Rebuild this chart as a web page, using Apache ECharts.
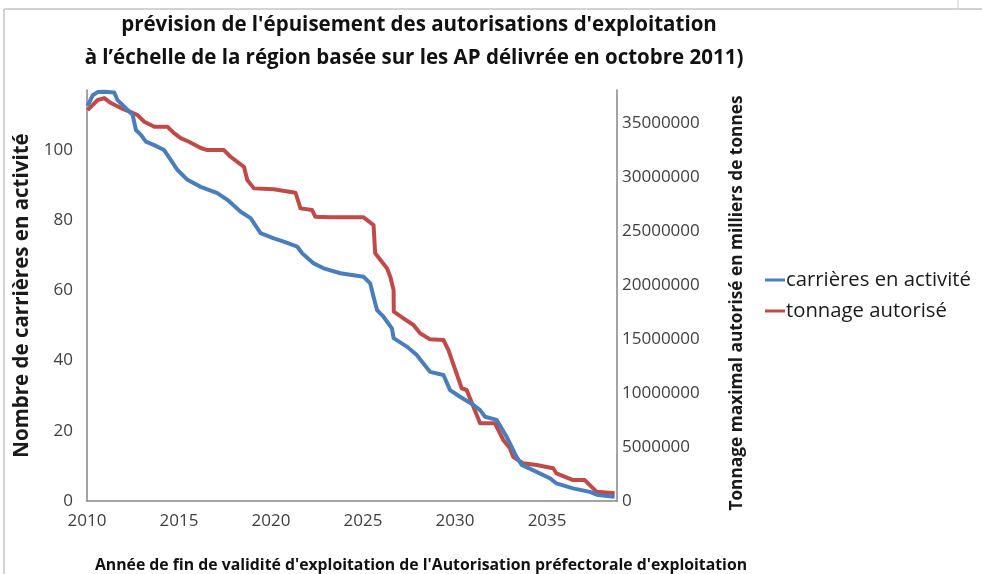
<!DOCTYPE html>
<html>
<head>
<meta charset="utf-8">
<script src="https://cdn.jsdelivr.net/npm/echarts@6/dist/echarts.min.js"></script>
<style>
html,body{margin:0;padding:0;background:#fff;}
#chart{width:982px;height:574px;}
</style>
</head>
<body>
<div id="chart"></div>
<script>
// ---- data ----
var titleLines = [
  "prévision de l'épuisement des autorisations d'exploitation",
  "à l’échelle de la région basée sur les AP délivrée en octobre 2011)"
];
var xAxisTitle = "Année de fin de validité d'exploitation de l'Autorisation préfectorale d'exploitation";
var leftAxisTitle = "Nombre de carrières en activité";
var rightAxisTitle = "Tonnage maximal autorisé en milliers de tonnes";
var seriesNames = ["carrières en activité", "tonnage autorisé"];

var carrieresYears = [2010.03, 2010.31, 2010.58, 2010.94, 2011.48, 2011.66, 2012.21, 2012.48, 2012.66, 2012.93,
  2013.20, 2013.65, 2014.19, 2014.55, 2014.92, 2015.46, 2016.18, 2017.08, 2017.63, 2018.35,
  2018.89, 2019.43, 2020.15, 2020.69, 2021.42, 2021.69, 2022.32, 2022.86, 2023.77, 2025.03,
  2025.39, 2025.57, 2025.76, 2026.11, 2026.57, 2026.66, 2027.38, 2027.92, 2028.28, 2028.64,
  2029.37, 2029.73, 2030.27, 2030.99, 2031.36, 2031.63, 2032.26, 2032.53, 2032.80, 2033.07,
  2033.34, 2033.62, 2034.43, 2035.15, 2035.51, 2036.41, 2037.32, 2037.77, 2038.67];
var carrieresValues = [112.6, 115.6, 116.5, 116.6, 116.4, 114.2, 111.4, 110.0, 105.7, 104.3,
  102.4, 101.4, 100.0, 97.2, 94.3, 91.5, 89.5, 87.7, 85.8, 82.4,
  80.6, 76.3, 74.8, 73.9, 72.5, 70.6, 67.7, 66.3, 64.9, 63.9,
  62.0, 58.2, 54.4, 52.5, 49.2, 46.4, 44.0, 41.6, 39.2, 36.8,
  35.9, 31.6, 29.7, 27.4, 25.9, 24.0, 23.1, 20.7, 18.3, 15.5,
  12.6, 10.3, 8.3, 6.5, 5.0, 3.6, 2.6, 1.7, 1.2];

var tonnageYears = [2010.03, 2010.58, 2010.94, 2011.30, 2011.84, 2012.38, 2012.75, 2013.11, 2013.66, 2014.37,
  2014.73, 2015.09, 2015.54, 2016.18, 2016.54, 2017.44, 2017.80, 2018.53, 2018.71, 2019.07,
  2020.15, 2021.33, 2021.60, 2022.23, 2022.41, 2023.22, 2025.03, 2025.57, 2025.66, 2026.30,
  2026.48, 2026.66, 2026.67, 2027.20, 2027.74, 2028.10, 2028.64, 2029.37, 2029.64, 2030.36,
  2030.63, 2031.36, 2032.17, 2032.62, 2032.98, 2033.16, 2033.70, 2034.43, 2035.33, 2035.51,
  2036.41, 2037.05, 2037.68, 2038.04, 2038.67];
var tonnageValues = [36200000, 37130000, 37310000, 36850000, 36390000, 36020000, 35740000, 35120000, 34660000, 34660000,
  34070000, 33610000, 33270000, 32690000, 32500000, 32500000, 31880000, 30950000, 29720000, 28950000,
  28860000, 28550000, 27100000, 26940000, 26320000, 26270000, 26270000, 25560000, 22940000, 21550000,
  20770000, 19540000, 17530000, 16920000, 16300000, 15530000, 14970000, 14910000, 13980000, 10440000,
  10280000, 7190000, 7190000, 5650000, 4880000, 4100000, 3490000, 3330000, 3030000, 2560000,
  1940000, 1940000, 860000, 810000, 710000];

var leftTickInterval = 20;
var rightTickInterval = 5000000;
var xTickInterval = 5;

// ---- chart ----
var FONT = "'Open Sans', 'Noto Sans', sans-serif";
var BLUE = '#4A7EBB';
var RED = '#BE4B48';
var AXIS_GRAY = '#868686';
var LABEL = '#404040';

function pairs(xs, ys) {
  var out = [];
  for (var i = 0; i < xs.length; i++) out.push([xs[i], ys[i]]);
  return out;
}

var chart = echarts.init(document.getElementById('chart'), null, {renderer: 'canvas'});
chart.setOption({
  animation: false,
  backgroundColor: '#ffffff',
  textStyle: {fontFamily: FONT},
  grid: {left: 87, right: 365, top: 90, bottom: 73, containLabel: false},
  legend: {
    orient: 'vertical',
    left: 760,
    top: 264,
    itemWidth: 20,
    itemHeight: 3,
    itemGap: 9,
    icon: 'rect',
    textStyle: {fontFamily: FONT, fontSize: 20.3, color: '#1a1a1a', lineHeight: 22, padding: [0, 0, 0, -4]},
    data: [
      {name: seriesNames[0], itemStyle: {color: BLUE}},
      {name: seriesNames[1], itemStyle: {color: RED}}
    ]
  },
  xAxis: {
    type: 'value',
    min: 2010,
    max: 2038.8,
    interval: xTickInterval,
    splitLine: {show: false},
    axisTick: {show: false},
    axisLine: {show: true, lineStyle: {color: AXIS_GRAY, width: 1.5}},
    axisLabel: {color: LABEL, fontFamily: FONT, fontSize: 17, margin: 12, showMaxLabel: false,
      formatter: function (v) { return String(v); }}
  },
  yAxis: [
    {
      type: 'value',
      position: 'left',
      min: 0,
      max: 117.1,
      interval: leftTickInterval,
      name: leftAxisTitle,
      nameLocation: 'middle',
      nameRotate: 90,
      nameGap: 41,
      nameTextStyle: {fontFamily: FONT, fontSize: 20.5, fontWeight: 'bold', color: '#1a1a1a'},
      splitLine: {show: false},
      axisTick: {show: false},
      axisLine: {show: true, lineStyle: {color: AXIS_GRAY, width: 1.5}},
      axisLabel: {color: LABEL, fontFamily: FONT, fontSize: 17, margin: 14, showMaxLabel: false}
    },
    {
      type: 'value',
      position: 'right',
      min: 0,
      max: 38060000,
      interval: rightTickInterval,
      splitLine: {show: false},
      axisTick: {show: false},
      axisLine: {show: true, lineStyle: {color: AXIS_GRAY, width: 1.5}},
      axisLabel: {color: LABEL, fontFamily: FONT, fontSize: 17, margin: 5, showMaxLabel: false,
        formatter: function (v) { return String(v); }}
    }
  ],
  series: [
    {
      name: seriesNames[0],
      type: 'line',
      yAxisIndex: 0,
      showSymbol: false,
      z: 3,
      lineStyle: {color: BLUE, width: 4, join: 'round'},
      itemStyle: {color: BLUE},
      data: pairs(carrieresYears, carrieresValues)
    },
    {
      name: seriesNames[1],
      type: 'line',
      yAxisIndex: 1,
      showSymbol: false,
      z: 2,
      lineStyle: {color: RED, width: 4, join: 'round'},
      itemStyle: {color: RED},
      data: pairs(tonnageYears, tonnageValues)
    }
  ],
  graphic: [
    {type: 'polyline', shape: {points: [[4, 574], [4, 9], [982, 9]]}, style: {stroke: '#a6a6a6', lineWidth: 1, fill: null}, silent: true},
    {type: 'line', shape: {x1: 958, y1: 0, x2: 958, y2: 9}, style: {stroke: '#c8c8c8', lineWidth: 1}, silent: true},
    {type: 'text', x: 419, y: 25, style: {text: titleLines[0], fontFamily: FONT, fontSize: 20.5, fontWeight: 'bold', fill: '#111', align: 'center', verticalAlign: 'middle'}},
    {type: 'text', x: 414, y: 58, style: {text: titleLines[1], fontFamily: FONT, fontSize: 20.5, fontWeight: 'bold', fill: '#111', align: 'center', verticalAlign: 'middle'}},
    {type: 'text', x: 737, y: 303, rotation: Math.PI / 2, style: {text: rightAxisTitle, fontFamily: FONT, fontSize: 17.3, fontWeight: 'bold', fill: '#1a1a1a', align: 'center', verticalAlign: 'middle'}},
    {type: 'text', x: 421, y: 565, style: {text: xAxisTitle, fontFamily: FONT, fontSize: 15.8, fontWeight: 'bold', fill: '#111', align: 'center', verticalAlign: 'middle'}}
  ]
});
</script>
</body>
</html>
